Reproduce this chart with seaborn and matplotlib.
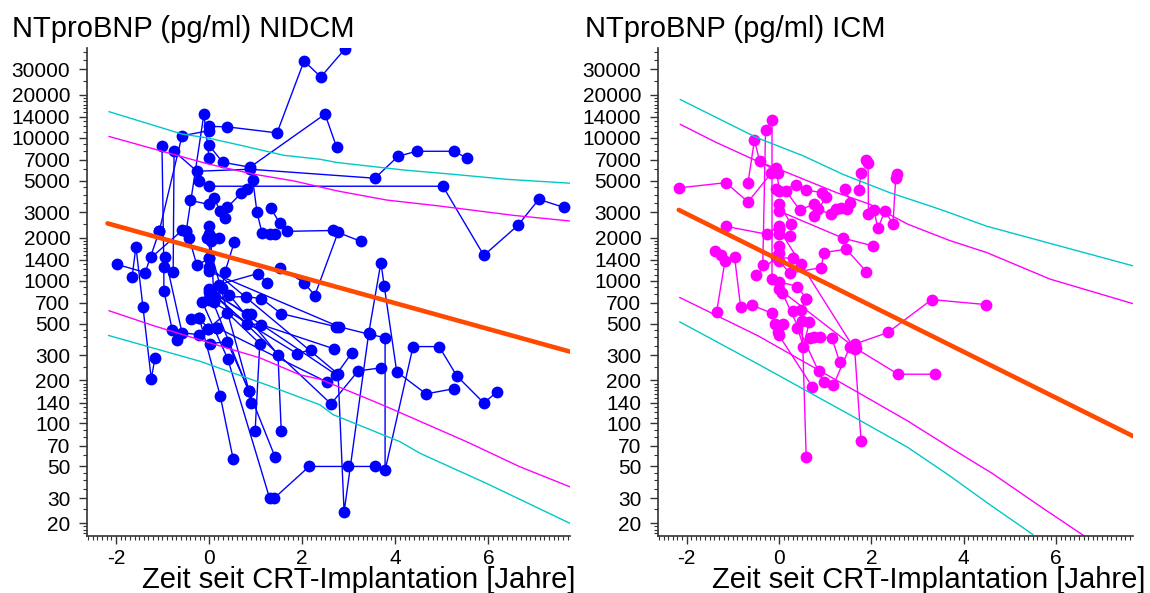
import numpy as np
import pandas as pd
import matplotlib
matplotlib.use("Agg")
import matplotlib.pyplot as plt
import seaborn as sns
from matplotlib.ticker import FixedLocator, FixedFormatter, NullFormatter, MultipleLocator

sns.set_style("white")
plt.rcParams["font.family"] = ["Liberation Sans", "DejaVu Sans"]
plt.rcParams["axes.unicode_minus"] = False
for key in ["text.color", "axes.labelcolor", "xtick.color", "ytick.color"]:
    plt.rcParams[key] = "black"

# ---------------- data: NIDCM (left panel) ----------------
nidcm_times = [
    [0.00, 0.39, 1.46, 2.04, 2.40, 2.92],
    [0.00, 0.29, 0.88, 2.49, 2.74],
    [-0.77, -0.75, -0.26, 0.88, 3.56, 4.06, 4.46, 5.26, 5.54],
    [-0.21, 0.00, 5.02, 5.90, 6.63, 7.08, 7.62],
    [-0.49, -0.11, 0.00],
    [-1.01, -0.97, -0.97, -0.79, -0.69],
    [-1.07, -0.58, 0.00],
    [0.39, 0.69, 0.82, 0.94, 1.03, 1.14, 1.31, 1.42],
    [1.33, 1.52, 1.67, 2.66],
    [1.52, 2.04, 2.27, 2.77, 3.26],
    [-0.41, 0.00, 0.11, 0.24, 0.34],
    [0.00, 2.77, 2.90, 3.43, 3.69, 3.76, 4.03, 4.66, 5.26],
    [0.00, 2.79, 3.45, 3.78, 3.78, 4.38, 4.94, 5.32, 5.90, 6.18],
    [-0.15, 0.40, 1.30, 1.40, 2.15, 2.98, 3.56],
    [0.00, 2.62, 3.20, 3.69],
    [0.04, 2.73, 3.07],
    [0.17, 2.53],
    [0.00, 1.89, 2.19],
    [0.43, 1.48, 1.55],
    [0.00, 0.79, 1.12, 1.55, 2.73],
    [-0.21, 0.24, 0.52],
    [-0.04, 0.86],
    [0.00, 1.42],
    [-1.97, -1.37, -1.07],
    [-1.65, -1.57, -1.42, -1.24, -1.16],
    [-1.24, -0.58, -0.49, -0.43, -0.26, 0.00],
    [-0.94, -0.58, -0.21],
    [-0.39, -0.21, -0.02, 0.17],
    [0.02, 0.82, 0.90],
    [0.13, 0.82, 1.12, 2.68],
    [-0.02, 0.39, 1.09, 0.99],
    [0.02, 0.39, 0.86, 0.90],
    [0.21, 1.05, 1.24],
    [0.28, 0.34, 0.54],
    [0.00, 0.21],
    [0.04, 0.11],
    [0.00, 0.00],
]
nidcm_values = [
    [12000, 11900, 10800, 34400, 26600, 41800],
    [8850, 6730, 6210, 14600, 8570],
    [1140, 8030, 5820, 6010, 5200, 7410, 8030, 8030, 7180],
    [4950, 4570, 4570, 1500, 2430, 3700, 3250],
    [2210, 14600, 7180],
    [8710, 1250, 851, 453, 385],
    [2210, 10300, 11200],
    [3250, 4080, 4350, 5030, 3000, 2140, 2100, 2100],
    [3200, 2510, 2210, 2240],
    [1230, 968, 785, 2170, 1880],
    [3640, 3410, 3760, 3050, 2720],
    [1250, 222, 24, 431, 1337, 923, 230, 161, 175],
    [1160, 475, 420, 398, 47, 345, 345, 215, 139, 166],
    [713, 284, 30, 30, 50, 50, 50],
    [870, 137, 233, 245],
    [850, 219, 313],
    [468, 195],
    [736, 308, 328],
    [798, 303, 89],
    [760, 772, 748, 587, 475],
    [549, 156, 56],
    [1970, 169],
    [830, 58],
    [1295, 1138, 2210],
    [1067, 1730, 658, 205, 288],
    [1450, 2240, 2210, 2000, 1275, 1430],
    [1450, 431, 418],
    [541, 549, 460, 468],
    [837, 587, 587],
    [772, 499, 491, 333],
    [460, 596, 362, 89],
    [362, 373, 169, 139],
    [937, 1120, 968],
    [893, 1140, 1850],
    [2390, 1970],
    [1880, 713],
    [2100, 1430],
]

# ---------------- data: ICM (right panel) ----------------
icm_times = [
    [-2.17, -1.15, -0.67, -0.17],
    [-0.67, -0.53, -0.42, -0.02],
    [-0.35, -0.29, -0.15, -0.15],
    [-0.06, 0.01, 0.37, 0.58, 0.94, 1.02, 0.77],
    [-0.06, 0.15, 0.45, 0.76, 0.84, 1.13, 1.23, 1.34, 1.47, 1.55, 1.44],
    [1.73, 1.78],
    [1.89, 1.93, 1.94, 2.06, 2.14, 2.30, 2.47, 2.53, 2.55],
    [0.00, 0.27, 0.25],
    [0.00, 1.39, 2.03],
    [-1.14, -0.26, 0.00, 0.00, 0.00],
    [-1.39, -1.26, -1.17, -1.35],
    [-0.96, -0.83, -0.58, -0.15],
    [-0.50, -0.06, 0.30, 0.48],
    [0.00, 0.00, 0.01, 0.23, 0.92, 0.97, 1.46, 1.89],
    [0.01, 0.40, 0.59],
    [-0.09, 0.09],
    [-0.02, 0.00, 0.72],
    [0.30, 0.47, 0.59],
    [0.40, 0.53, 0.66],
    [0.50, 0.59],
    [0.68, 0.77, 0.90, 1.15, 1.32],
    [0.07, 0.86, 0.97, 1.18, 1.53, 1.64, 2.36, 3.31, 4.48],
    [0.00, 1.64, 1.78],
    [0.01, 1.66, 2.58, 3.38],
]
icm_values = [
    [4450, 4840, 3550, 5630],
    [4840, 9640, 6870, 5690],
    [1280, 11320, 13200, 1020],
    [6170, 4240, 4670, 4300, 4120, 3860, 2830],
    [4350, 4240, 3120, 3420, 3150, 2910, 3190, 3240, 3150, 3510, 4350],
    [4280, 5690],
    [6980, 6690, 2910, 3120, 2320, 3070, 2480, 5250, 5530],
    [3420, 2480, 2060],
    [3070, 1980, 1750],
    [2390, 2110, 2420, 2290, 2110],
    [1615, 1514, 1360, 604],
    [1450, 655, 672, 590],
    [1090, 1450, 1432, 1300],
    [1750, 1570, 1375, 1125, 1233, 1570, 1655, 1156],
    [979, 908, 748],
    [500, 500],
    [438, 414, 181],
    [614, 623, 740],
    [469, 345, 514],
    [522, 58.5],
    [399, 405, 405, 393, 267],
    [824, 231, 194, 185, 340, 359, 433, 736, 679],
    [2290, 331, 75],
    [869, 336, 221, 221],
]

# ---------------- fitted line and prediction bands ----------------
nidcm_fit_t = [-2.18, 7.75]
nidcm_fit_v = [2512, 318]
icm_fit_t = [-2.17, 7.67]
icm_fit_v = [3120, 81.5]

nidcm_cyan_up_t = [-2.15, -0.58, 0.0, 0.74, 1.60, 2.38, 2.75, 4.17, 5.24, 6.39, 7.75]
nidcm_cyan_up_v = [15200, 10600, 9910, 8750, 7530, 7060, 6700, 5940, 5540, 5110, 4800]
nidcm_mag_up_t = [-2.15, -1.03, 0.0, 0.96, 1.82, 2.38, 2.75, 3.81, 4.96, 6.53, 7.75]
nidcm_mag_up_v = [10200, 8070, 6520, 5550, 4980, 4520, 4240, 3660, 3320, 2860, 2610]
nidcm_mag_lo_t = [-2.15, -1.19, 0.02, 1.10, 1.95, 2.38, 3.38, 3.81, 5.53, 6.67, 7.75]
nidcm_mag_lo_v = [615, 483, 366, 287, 219, 204, 150, 131, 74.5, 49.8, 36]
nidcm_cyan_lo_t = [-2.16, -0.19, 1.24, 2.38, 2.67, 4.10, 4.53, 5.96, 7.75]
nidcm_cyan_lo_v = [413, 272, 186, 135, 115, 74.5, 61.8, 38, 20]

icm_cyan_up_t = [-2.14, -1.35, -0.48, 0.53, 1.39, 2.40, 3.27, 3.70, 4.50, 7.67]
icm_cyan_up_v = [18500, 13800, 10000, 7450, 5530, 4120, 3330, 2980, 2400, 1267]
icm_mag_up_t = [-2.14, -1.35, -0.48, 0.09, 1.25, 1.97, 2.79, 3.70, 4.50, 5.87, 7.67]
icm_mag_up_v = [12400, 9230, 6870, 5850, 4120, 3420, 2480, 1905, 1570, 1024, 689]
icm_mag_lo_t = [-2.15, -0.45, 1.71, 2.79, 3.70, 4.64, 5.65, 6.69]
icm_mag_lo_v = [761, 410, 165, 104, 68, 44.3, 26.4, 15.7]
icm_cyan_lo_t = [-2.15, -0.45, 1.71, 2.79, 3.70, 4.50, 5.50]
icm_cyan_lo_v = [514, 260, 107, 68, 43, 28, 16.7]

y_ticks = [20, 30, 50, 70, 100, 140, 200, 300, 500, 700, 1000, 1400, 2000,
           3000, 5000, 7000, 10000, 14000, 20000, 30000]
# minor tick multipliers within each decade
y_minor_mult = [1.1, 1.2, 1.3, 1.5, 1.6, 1.7, 1.8, 1.9, 2.5, 3.5, 4, 4.5, 6, 8, 9]
y_minor_decades = [10, 100, 1000, 10000]
x_ticks = [-2, 0, 2, 4, 6]

BLUE = "#0000FF"
MAGENTA = "#FF00FF"
CYAN = "#00C8C8"
ORANGE = "#FF4A00"


def traj_frame(times, values):
    rows = []
    for pid, (ts, vs) in enumerate(zip(times, values)):
        for k, (t, v) in enumerate(zip(ts, vs)):
            rows.append((pid, k, t, v))
    return pd.DataFrame(rows, columns=["pid", "k", "t", "v"])


def line(ax, t, v, color, lw):
    df = pd.DataFrame({"t": t, "v": v})
    sns.lineplot(data=df, x="t", y="v", ax=ax, color=color, lw=lw,
                 estimator=None, sort=False, legend=False)


minor_y = [d * m for d in y_minor_decades for m in y_minor_mult]

W, H = 1150, 593
fig = plt.figure(figsize=(W / 100, H / 100), dpi=100)
axL = fig.add_axes([87 / W, 1 - 536 / H, (570 - 87) / W, (536 - 48) / H])
axR = fig.add_axes([658 / W, 1 - 536 / H, (1133 - 658) / W, (536 - 48) / H])

panels = [
    (axL, nidcm_times, nidcm_values, BLUE, (nidcm_fit_t, nidcm_fit_v),
     (nidcm_cyan_up_t, nidcm_cyan_up_v), (nidcm_mag_up_t, nidcm_mag_up_v),
     (nidcm_mag_lo_t, nidcm_mag_lo_v), (nidcm_cyan_lo_t, nidcm_cyan_lo_v), 7.75),
    (axR, icm_times, icm_values, MAGENTA, (icm_fit_t, icm_fit_v),
     (icm_cyan_up_t, icm_cyan_up_v), (icm_mag_up_t, icm_mag_up_v),
     (icm_mag_lo_t, icm_mag_lo_v), (icm_cyan_lo_t, icm_cyan_lo_v), 7.67),
]

for ax, tt, vv, col, fit, cu, mu, ml, cl, xmax in panels:
    ax.set_yscale("log")
    df = traj_frame(tt, vv)
    sns.lineplot(data=df, x="t", y="v", units="pid", estimator=None,
                 sort=False, ax=ax, color=col, lw=1.0, marker="o",
                 markersize=8.5, markeredgewidth=0, legend=False)
    line(ax, cu[0], cu[1], CYAN, 1.0)
    line(ax, cl[0], cl[1], CYAN, 1.0)
    line(ax, mu[0], mu[1], MAGENTA, 1.0)
    line(ax, ml[0], ml[1], MAGENTA, 1.0)
    line(ax, fit[0], fit[1], ORANGE, 3.3)

    ax.set_xlim(-2.62, xmax)
    ax.set_ylim(16.3, 42400)
    ax.yaxis.set_major_locator(FixedLocator(y_ticks))
    ax.yaxis.set_major_formatter(FixedFormatter([str(v) for v in y_ticks]))
    ax.yaxis.set_minor_locator(FixedLocator(minor_y))
    ax.yaxis.set_minor_formatter(NullFormatter())
    ax.xaxis.set_major_locator(FixedLocator(x_ticks))
    ax.xaxis.set_minor_locator(MultipleLocator(0.1))
    ax.set_xlabel("")
    ax.set_ylabel("")
    for s in ["top", "right"]:
        ax.spines[s].set_visible(False)
    for s in ["left", "bottom"]:
        ax.spines[s].set_color("#333333")
        ax.spines[s].set_linewidth(1.2)
    ax.tick_params(axis="both", which="major", direction="out", length=6,
                   width=1, color="#333333", labelsize=15, left=True, bottom=True)
    ax.tick_params(axis="both", which="minor", direction="out", length=3,
                   width=0.8, color="#333333", left=True, bottom=True)
    ax.tick_params(axis="y", which="major", pad=6)
    ax.tick_params(axis="x", which="major", pad=3)
    ax.set_facecolor("white")

fig.text(12 / W, 1 - 37 / H, "NTproBNP (pg/ml) NIDCM", fontsize=21, va="baseline")
fig.text(585 / W, 1 - 37 / H, "NTproBNP (pg/ml) ICM", fontsize=21, va="baseline")
fig.text(575 / W, 1 - 588 / H, "Zeit seit CRT-Implantation [Jahre]", fontsize=21,
         va="baseline", ha="right")
fig.text(1145 / W, 1 - 588 / H, "Zeit seit CRT-Implantation [Jahre]", fontsize=21,
         va="baseline", ha="right")

fig.savefig("out.png", dpi=100, facecolor="white")
